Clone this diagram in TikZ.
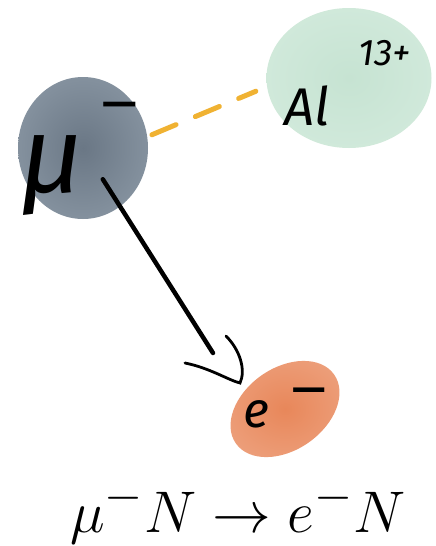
\documentclass[tikz,border=0pt]{standalone}
\usepackage{fontspec}
\newfontfamily\hand{Fira Sans}
\newfontfamily\minusfont{Liberation Sans}
\usetikzlibrary{shapes.geometric}
\definecolor{muin}{HTML}{6A7785}
\definecolor{mumid}{HTML}{8794A1}
\definecolor{muout}{HTML}{B3BDC7}
\definecolor{alin}{HTML}{C6E3D2}
\definecolor{almid}{HTML}{D2EADC}
\definecolor{alout}{HTML}{E3F2E9}
\definecolor{ein}{HTML}{E8875A}
\definecolor{emid}{HTML}{EDA07C}
\definecolor{eout}{HTML}{F5C2AA}
\definecolor{dashcol}{HTML}{F0B232}
\pgfdeclareradialshading{mushade}{\pgfpoint{0bp}{0bp}}{color(0bp)=(muin); color(28bp)=(mumid); color(48bp)=(muout); color(50bp)=(muout)}
\pgfdeclareradialshading{alshade}{\pgfpoint{0bp}{0bp}}{color(0bp)=(alin); color(30bp)=(almid); color(48bp)=(alout); color(50bp)=(alout)}
\pgfdeclareradialshading{eshade}{\pgfpoint{0bp}{0bp}}{color(0bp)=(ein); color(28bp)=(emid); color(48bp)=(eout); color(50bp)=(eout)}
\begin{document}
\begin{tikzpicture}[x=1pt,y=-1pt,
  blob/.style={ellipse, draw=none, inner sep=0pt},
  hw/.style={inner sep=0pt, text=black},
  dashcon/.style={draw=dashcol, line width=5pt, line cap=round, dash pattern=on 26pt off 21pt},
  shaftline/.style={line width=4.5pt, line cap=round},
  headline/.style={line width=2.8pt, line cap=round}]
\fill[white] (0,0) rectangle (436,546);
\useasboundingbox (0,0) rectangle (436,546);
% blobs
\node[blob, minimum width=130pt, minimum height=142pt, shading=mushade] (mu) at (83,148) {};
\node[blob, minimum width=165pt, minimum height=140pt, shading=alshade] (al) at (349,78) {};
\node[blob, rotate=35, minimum width=120pt, minimum height=82pt, shading=eshade] (e) at (285,409) {};
% labels
\node[hw, anchor=base, font=\hand\itshape\fontsize{108}{108}\selectfont] (mutext) at (52,192) {μ};
\node[hw, anchor=base, font=\minusfont\fontsize{66}{66}\selectfont] (muminus) at (120,126) {−};
\node[hw, font=\hand\itshape\fontsize{53}{53}\selectfont] (altext) at (307,106) {Al};
\node[hw, font=\hand\itshape\fontsize{37}{37}\selectfont] (alcharge) at (385,53) {13+};
\node[hw, font=\hand\itshape\fontsize{50}{50}\selectfont] (etext) at (256,414) {e};
\node[hw, anchor=base, font=\minusfont\fontsize{64}{64}\selectfont] (eminus) at (309,411) {−};
% connectors
\draw[dashcon, shorten <=5pt, shorten >=12pt] (mu.10) -- (al.186);
\coordinate (shaftend) at (213,353);
\coordinate (tip) at (240,383);
\draw[shaftline, shorten <=37pt] (mu.center) -- (shaftend);
\draw[headline] (185,363) .. controls (210,368) and (228,380) .. (tip)
                .. controls (246,370) and (240,350) .. (226,336);
% formula
\node[anchor=base, inner sep=0pt, scale=2.36, font=\fontsize{24.88}{30}\selectfont] (eq) at (238,532) {$\mu^-N\to e^-N$};
\end{tikzpicture}
\end{document}
